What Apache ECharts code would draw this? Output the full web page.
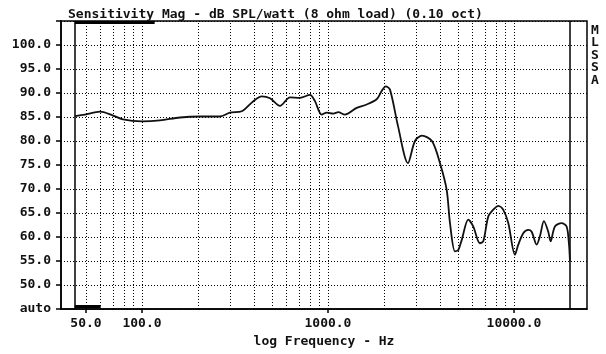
<!DOCTYPE html>
<html>
<head>
<meta charset="utf-8">
<script src="https://cdn.jsdelivr.net/npm/echarts@6/dist/echarts.min.js"></script>
<style>
  html, body { margin: 0; padding: 0; background: #fff; }
  #chart { width: 606px; height: 354px; }
</style>
</head>
<body>
<div id="chart"></div>
<script>
// Sensitivity curve (Hz / dB SPL)
const freqHz = [43.6, 49.4, 59.5, 69, 79, 100, 125, 160, 205, 262, 297, 344, 397, 440, 488, 552, 625, 707, 800, 851,
    925, 984, 1068, 1136, 1234, 1427, 1615, 1828, 1944, 2043, 2155, 2380, 2692, 2936, 3202, 3624, 4000, 4348, 4530,
    4818, 5020, 5240, 5680, 6040, 6560, 6840, 7280, 7740, 8240, 8750, 9320, 10120, 10550, 11220, 11940, 12450, 13240,
    13800, 14490, 15290, 15740, 16600, 18030, 19190, 19750, 20000];
const splDb = [85.2, 85.5, 86.1, 85.4, 84.5, 84.1, 84.3, 84.9, 85.1, 85.1, 85.9, 86.2, 88.3, 89.3, 88.9, 87.3, 89.1, 89.0, 89.6, 88.3,
    85.5, 85.9, 85.7, 86.0, 85.5, 86.9, 87.6, 88.7, 90.4, 91.4, 90.7, 83.1, 75.4, 80.0, 81.1, 80.0, 75.4, 69.8, 62.9,
    57.0, 57.3, 59.4, 63.6, 62.2, 58.7, 59.1, 64.3, 65.7, 66.5, 65.7, 62.9, 56.3, 58.4, 60.8, 61.5, 61.1, 58.4,
    60.2, 63.3, 61.1, 59.1, 62.2, 62.9, 62.2, 58.6, 55.0];

// decade grid + labels
const gridFreqs = [50, 60, 70, 80, 90, 100, 200, 300, 400, 500, 600, 700, 800, 900,
    1000, 2000, 3000, 4000, 5000, 6000, 7000, 8000, 9000, 10000];
const freqLabels = [50, 100, 1000, 10000];
const sweepRange = [43.6, 20000];
const topCursor = [43.6, 117];
const bottomCursor = [43.6, 60];

const FONT = 'DejaVu Sans Mono';

const chart = echarts.init(document.getElementById('chart'));

const dotted = { color: '#000', width: 1, type: [1, 2] };

const option = {
    animation: false,
    backgroundColor: '#fff',
    title: {
        text: 'Sensitivity Mag - dB SPL/watt (8 ohm load) (0.10 oct)',
        left: 63,
        top: 3,
        textStyle: { fontFamily: FONT, fontSize: 13, fontWeight: 'bold', color: '#111' }
    },
    grid: {
        left: 61, right: 19, top: 21, bottom: 45,
        show: true,
        borderColor: '#000',
        borderWidth: 1.5
    },
    xAxis: {
        type: 'log',
        logBase: 10,
        min: 36.7,
        max: 24700,
        name: 'log Frequency - Hz',
        nameLocation: 'middle',
        nameGap: 26,
        nameTextStyle: { fontFamily: FONT, fontSize: 13, fontWeight: 'bold', color: '#111' },
        axisLine: { lineStyle: { color: '#000', width: 1.5 } },
        axisTick: { customValues: freqLabels, length: 4, lineStyle: { color: '#000', width: 1.5 } },
        axisLabel: {
            customValues: freqLabels,
            margin: 8,
            fontFamily: FONT, fontSize: 13, fontWeight: 'bold', color: '#111',
            formatter: function (v) { return Number(v).toFixed(1); }
        },
        splitLine: { show: false },
        minorTick: { show: false },
        minorSplitLine: { show: false }
    },
    yAxis: {
        type: 'value',
        min: 45,
        max: 105,
        interval: 5,
        axisLine: { show: true, lineStyle: { color: '#000', width: 1.5 } },
        axisTick: { show: true, length: 5, lineStyle: { color: '#000', width: 1.5 } },
        axisLabel: {
            margin: 10,
            fontFamily: FONT, fontSize: 13, fontWeight: 'bold', color: '#111',
            formatter: function (v) {
                if (v === 45) return 'auto';
                if (v === 105) return '';
                return v.toFixed(1);
            }
        },
        splitLine: { show: true, lineStyle: dotted }
    },
    graphic: [{
        type: 'text',
        left: 591,
        top: 24,
        style: {
            text: 'M\nL\nS\nS\nA',
            font: 'bold 13px "DejaVu Sans Mono"',
            lineHeight: 12.5,
            fill: '#111'
        }
    }],
    series: [{
        name: 'Sensitivity',
        type: 'line',
        data: freqHz.map(function (f, i) { return [f, splDb[i]]; }),
        showSymbol: false,
        smooth: 0.3,
        lineStyle: { color: '#111', width: 1.8 },
        z: 5,
        markLine: {
            silent: true,
            symbol: ['none', 'none'],
            label: { show: false },
            animation: false,
            lineStyle: dotted,
            data: gridFreqs.map(function (f) { return { xAxis: f }; })
                .concat(sweepRange.map(function (f) {
                    return { xAxis: f, lineStyle: { color: '#000', width: 1.5, type: 'solid' } };
                }))
                .concat([
                    [{ coord: [topCursor[0], 104.7], lineStyle: { color: '#000', width: 3, type: 'solid' } },
                     { coord: [topCursor[1], 104.7] }],
                    [{ coord: [bottomCursor[0], 45.6], lineStyle: { color: '#000', width: 3, type: 'solid' } },
                     { coord: [bottomCursor[1], 45.6] }]
                ])
        }
    }]
};

chart.setOption(option);
</script>
</body>
</html>
